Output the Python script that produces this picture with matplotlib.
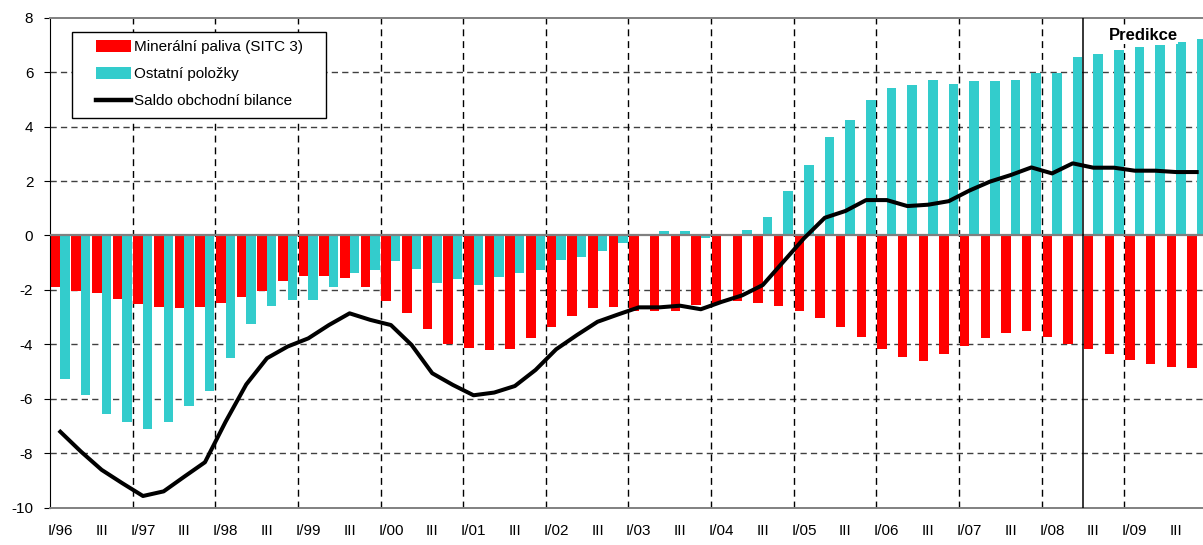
import matplotlib
matplotlib.use("Agg")
import matplotlib.pyplot as plt
import numpy as np
from matplotlib.patches import Rectangle, Patch
from matplotlib.lines import Line2D

plt.rcParams['font.family'] = ['Liberation Sans', 'DejaVu Sans']

years = ['96', '97', '98', '99', '00', '01', '02', '03', '04', '05', '06', '07', '08', '09']
tick_labels = []
for yy in years:
    tick_labels += ['I/' + yy, 'III']

mineral = [-1.90, -2.03, -2.10, -2.32, -2.50, -2.61, -2.65, -2.61,
           -2.47, -2.25, -2.03, -1.66, -1.48, -1.48, -1.55, -1.88,
           -2.40, -2.86, -3.42, -3.97, -4.12, -4.21, -4.17, -3.75,
           -3.35, -2.95, -2.65, -2.61, -2.76, -2.76, -2.78, -2.57,
           -2.47, -2.39, -2.47, -2.59, -2.76, -3.02, -3.35, -3.72,
           -4.16, -4.45, -4.60, -4.34, -4.05, -3.75, -3.57, -3.50,
           -3.72, -3.97, -4.16, -4.34, -4.56, -4.71, -4.82, -4.86]
ostatni = [-5.28, -5.85, -6.55, -6.84, -7.10, -6.84, -6.25, -5.70,
           -4.49, -3.24, -2.58, -2.36, -2.36, -1.88, -1.37, -1.27,
           -0.93, -1.22, -1.73, -1.61, -1.81, -1.54, -1.39, -1.27,
           -0.90, -0.79, -0.57, -0.28, 0.06, 0.17, 0.17, -0.08,
           0.00, 0.20, 0.68, 1.63, 2.59, 3.63, 4.25, 4.99,
           5.43, 5.54, 5.72, 5.58, 5.69, 5.69, 5.72, 5.98,
           5.98, 6.57, 6.68, 6.83, 6.94, 7.01, 7.12, 7.23]
saldo = [-7.21, -7.94, -8.61, -9.10, -9.57, -9.40, -8.86, -8.33,
         -6.84, -5.47, -4.51, -4.08, -3.78, -3.29, -2.86, -3.10,
         -3.29, -4.02, -5.06, -5.49, -5.87, -5.77, -5.53, -4.94,
         -4.18, -3.66, -3.17, -2.90, -2.64, -2.64, -2.58, -2.71,
         -2.44, -2.20, -1.82, -0.96, -0.10, 0.65, 0.90, 1.30,
         1.30, 1.08, 1.13, 1.26, 1.65, 1.98, 2.22, 2.50,
         2.28, 2.65, 2.49, 2.49, 2.38, 2.38, 2.33, 2.33]

legend_labels = ['Minerální paliva (SITC 3)', 'Ostatní položky', 'Saldo obchodní bilance']
prediction_text = 'Predikce'
prediction_start = 50  # index of first predicted quarter (III/08)

RED = '#FF0000'
CYAN = '#33CCCC'

W, H = 1203, 545
fig = plt.figure(figsize=(W / 100, H / 100), dpi=100)
left_px, right_px, top_px, bot_px = 50, 1207, 17.7, 507.7
ax = fig.add_axes([left_px / W, (H - bot_px) / H, (right_px - left_px) / W, (bot_px - top_px) / H])

n = len(saldo)
x = np.arange(n)
bw = 0.46
ax.bar(x - bw / 2, mineral, width=bw, color=RED, zorder=2, linewidth=0)
ax.bar(x + bw / 2, ostatni, width=bw, color=CYAN, zorder=2, linewidth=0)
ax.plot(x, saldo, color='black', lw=2.9, zorder=4, solid_joinstyle='round')

ax.set_xlim(-0.5, n - 0.5)
ax.set_ylim(-10, 8)

# grid
for yv in [-8, -6, -4, -2, 2, 4, 6]:
    ax.axhline(yv, color='#404040', lw=1, dashes=(4.5, 3), zorder=0)
for xv in np.arange(3.5, n - 0.5, 4):
    ax.axvline(xv, color='black', lw=1, dashes=(5, 3.5), zorder=0)
ax.axhline(0, color='#808080', lw=1.6, zorder=3)
ax.axvline(prediction_start - 0.5, color='black', lw=1.1, zorder=3)

for s in ['top', 'bottom']:
    ax.spines[s].set_color('#808080')
    ax.spines[s].set_linewidth(1.4)
ax.spines['left'].set_color('black')
ax.spines['right'].set_visible(False)

ax.set_yticks(np.arange(-10, 9, 2))
ax.set_yticklabels([str(v) for v in range(-10, 9, 2)])
ax.set_xticks(x[::2])
ax.set_xticklabels(tick_labels)
ax.tick_params(axis='x', length=0, pad=12, labelsize=11)
ax.tick_params(axis='y', length=4, direction='out', pad=8, labelsize=11)

ax.text(prediction_start + 2.4, 7.35, prediction_text, fontsize=12, fontweight='bold',
        ha='center', va='center', zorder=5,
        bbox=dict(facecolor='white', edgecolor='none', pad=0.5))

# legend
handles = [Patch(facecolor=RED, edgecolor='none'),
           Patch(facecolor=CYAN, edgecolor='none'),
           Line2D([0], [0], color='black', lw=3.2)]
leg = ax.legend(handles, legend_labels, loc='upper left', bbox_to_anchor=((96 - 50) / 1157, (507.7 - 40) / 490),
                frameon=False, fontsize=11, borderpad=0, borderaxespad=0, handlelength=2.3,
                handleheight=0.8, handletextpad=0.2, labelspacing=0.85)
leg.set_zorder(6)
frame = Rectangle(((72 - 50) / 1157, (507.7 - 118) / 490), (326 - 72) / 1157, (118 - 32) / 490,
                  transform=ax.transAxes, facecolor='white', edgecolor='black', lw=1, zorder=5)
ax.add_patch(frame)

fig.savefig('out.png', dpi=100)
